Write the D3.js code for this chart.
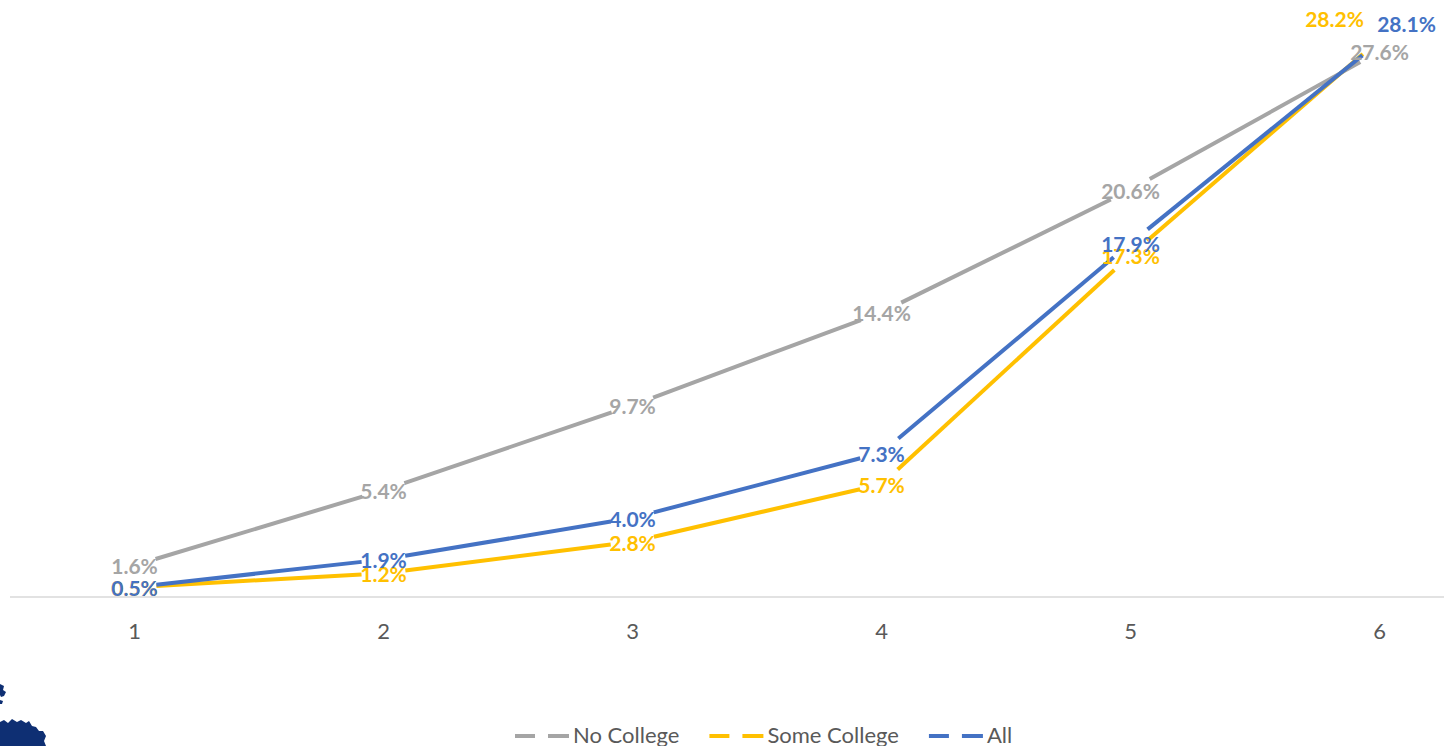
<!DOCTYPE html>
<html>
<head>
<meta charset="utf-8">
<script src="https://cdn.jsdelivr.net/npm/d3@7"></script>
<style>
  html, body { margin: 0; padding: 0; background: #fff; }
  svg { display: block; }
  text { font-family: Lato, "Open Sans", sans-serif; }
</style>
</head>
<body>
<svg id="chart" width="1444" height="746"></svg>
<script>
// Categories on the x axis
const categories = [1, 2, 3, 4, 5, 6];

// Series values (percent)
const noCollege   = [1.6, 5.4, 9.7, 14.4, 20.6, 27.6];
const someCollege = [0.5, 1.2, 2.8, 5.7, 17.3, 28.2];
const allGroups   = [0.5, 1.9, 4.0, 7.3, 17.9, 28.1];

const seriesNames = ["No College", "Some College", "All"];

const series = [
  { name: seriesNames[0], values: noCollege,   color: "#A5A5A5" },
  { name: seriesNames[1], values: someCollege, color: "#FFC000" },
  { name: seriesNames[2], values: allGroups,   color: "#4472C4" }
];

// Hand-placed labels at the crowded last category (offsets in px)
const labelNudge = {
  "Some College-5": [-45, -22],
  "All-5": [27, -19]
};

const svg = d3.select("#chart");

const x = d3.scaleBand().domain(categories).range([10, 1504]);
const xc = d => x(d) + x.bandwidth() / 2;
const y = d3.scaleLinear().domain([0, 30]).range([597, 4]);

// Category axis
const xAxis = d3.axisBottom(x).tickSize(0).tickPadding(0);
const gx = svg.append("g").attr("transform", "translate(0,597)").call(xAxis);
gx.select(".domain").remove();
gx.selectAll("text")
  .attr("y", 42)
  .attr("dy", null)
  .attr("fill", "#595959")
  .style("font-size", "22px")
  .style("font-family", "Lato, sans-serif");

svg.append("line")
  .attr("x1", 10).attr("x2", 1444)
  .attr("y1", 597).attr("y2", 597)
  .attr("stroke", "#d9d9d9").attr("stroke-width", 1.5);

// Lines: each segment stops short of the data points, leaving a gap around each value
const gap = 22;
const line = d3.line();
const linesG = svg.append("g");
series.forEach(s => {
  const pts = s.values.map((v, i) => [xc(categories[i]), y(v)]);
  for (let i = 0; i < pts.length - 1; i++) {
    const [x0, y0] = pts[i], [x1, y1] = pts[i + 1];
    const len = Math.hypot(x1 - x0, y1 - y0);
    const ux = (x1 - x0) / len, uy = (y1 - y0) / len;
    const seg = [[x0 + ux * gap, y0 + uy * gap], [x1 - ux * gap, y1 - uy * gap]];
    linesG.append("path")
      .attr("d", line(seg))
      .attr("fill", "none")
      .attr("stroke", s.color)
      .attr("stroke-width", 4);
  }
});

// Value labels, centred on each point
const labelsG = svg.append("g");
series.forEach(s => {
  labelsG.selectAll(null)
    .data(s.values.map((v, i) => ({ v, i })))
    .join("text")
    .attr("x", d => xc(categories[d.i]) + (labelNudge[s.name + "-" + d.i] || [0, 0])[0])
    .attr("y", d => y(d.v) + 9 + (labelNudge[s.name + "-" + d.i] || [0, 0])[1])
    .attr("text-anchor", "middle")
    .attr("fill", s.color)
    .style("font-size", "21px")
    .style("font-weight", "bold")
    .text(d => d.v.toFixed(1) + "%");
});

// Legend
const legend = svg.append("g");
let lx = 515;
const ly = 736;
series.forEach(s => {
  legend.append("line").attr("x1", lx).attr("x2", lx + 20).attr("y1", ly).attr("y2", ly)
    .attr("stroke", s.color).attr("stroke-width", 4);
  legend.append("line").attr("x1", lx + 33).attr("x2", lx + 54).attr("y1", ly).attr("y2", ly)
    .attr("stroke", s.color).attr("stroke-width", 4);
  const t = legend.append("text")
    .attr("x", lx + 58).attr("y", 743)
    .attr("fill", "#595959")
    .style("font-size", "22px")
    .text(s.name);
  lx = lx + 58 + t.node().getComputedTextLength() + 30;
});

// Corner emblem (partially visible)
const emblem = svg.append("g").attr("fill", "#0e2f73");
emblem.append("path").attr("d",
  "M0,684 L4,686 L3,690 L6,692 L4,696 L1,697 L0,695 Z");
emblem.append("path").attr("d",
  "M0,700 L3,701 L2,704 L0,704 Z");
emblem.append("path").attr("d",
  "M0,722 L4,720 L8,723 L12,719 L17,722 L21,720 L26,723 L29,721 L32,726 L36,727 L39,731 L43,731 L46,736 L44,741 L46,746 L0,746 Z");
</script>
</body>
</html>
